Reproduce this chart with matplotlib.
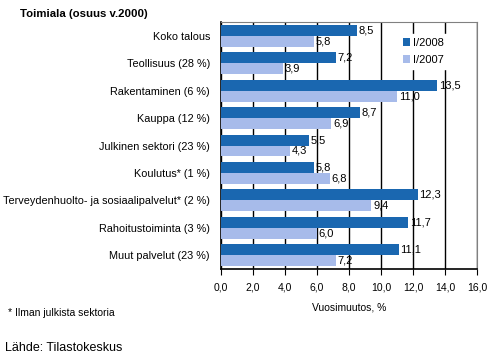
import numpy as np
import matplotlib.pyplot as plt

plt.rcParams['font.family'] = ['Liberation Sans', 'DejaVu Sans']

categories = ['Koko talous', 'Teollisuus (28 %)', 'Rakentaminen (6 %)', 'Kauppa (12 %)',
              'Julkinen sektori (23 %)', 'Koulutus* (1 %)',
              'Terveydenhuolto- ja sosiaalipalvelut* (2 %)', 'Rahoitustoiminta (3 %)',
              'Muut palvelut (23 %)']
values_2008 = [8.5, 7.2, 13.5, 8.7, 5.5, 5.8, 12.3, 11.7, 11.1]
values_2007 = [5.8, 3.9, 11.0, 6.9, 4.3, 6.8, 9.4, 6.0, 7.2]
series_names = ['I/2008', 'I/2007']
xticks = [0, 2, 4, 6, 8, 10, 12, 14, 16]

dark = '#1a67b0'
light = '#a7bbea'

fig = plt.figure(figsize=(4.97, 3.62), dpi=100)
ax = fig.add_axes([0.4447, 0.2569, 0.5151, 0.6823])

y = np.arange(len(categories))
h = 0.4
b1 = ax.barh(y - h / 2, values_2008, height=h, color=dark, label=series_names[0], zorder=3)
b2 = ax.barh(y + h / 2, values_2007, height=h, color=light, label=series_names[1], zorder=3)

for bars, vals in ((b1, values_2008), (b2, values_2007)):
    for bar, v in zip(bars, vals):
        ax.text(v + 0.1, bar.get_y() + bar.get_height() / 2, f'{v:.1f}'.replace('.', ','),
                va='center', ha='left', fontsize=8, zorder=4)

ax.set_xlim(0, 16)
ax.set_ylim(len(categories) - 0.5, -0.5)
ax.set_xticks(xticks)
ax.set_xticklabels([f'{t:.1f}'.replace('.', ',') for t in xticks], fontsize=7.5)
ax.set_yticks(y)
ax.set_yticklabels(categories, fontsize=7.8)
ax.tick_params(axis='y', length=0, pad=8)
ax.tick_params(axis='x', length=4, direction='out', color='black', pad=6)
ax.xaxis.grid(True, color='black', linewidth=1, zorder=0)
ax.set_axisbelow(True)

for side in ('top', 'right'):
    ax.spines[side].set_color('#808080')
for side in ('left', 'bottom'):
    ax.spines[side].set_color('black')
    ax.spines[side].set_linewidth(1.2)

ax.set_xlabel('Vuosimuutos, %', fontsize=7.5, labelpad=7)

leg = ax.legend(loc='upper left', bbox_to_anchor=(0.67, 0.975), frameon=True, fontsize=8,
                handlelength=0.7, handleheight=0.7, handletextpad=0.2, labelspacing=0.6,
                borderpad=0.4, fancybox=False)
leg.get_frame().set_facecolor('white')
leg.get_frame().set_edgecolor('white')
leg.get_frame().set_alpha(1)

fig.text(0.04, 0.96, 'Toimiala (osuus v.2000)', fontsize=8.2, fontweight='bold', va='center')
fig.text(0.016, 0.135, '* Ilman julkista sektoria', fontsize=7.5, va='center')
fig.text(0.01, 0.04, 'Lähde: Tilastokeskus', fontsize=9, va='center')

fig.savefig('out.png', dpi=100)
